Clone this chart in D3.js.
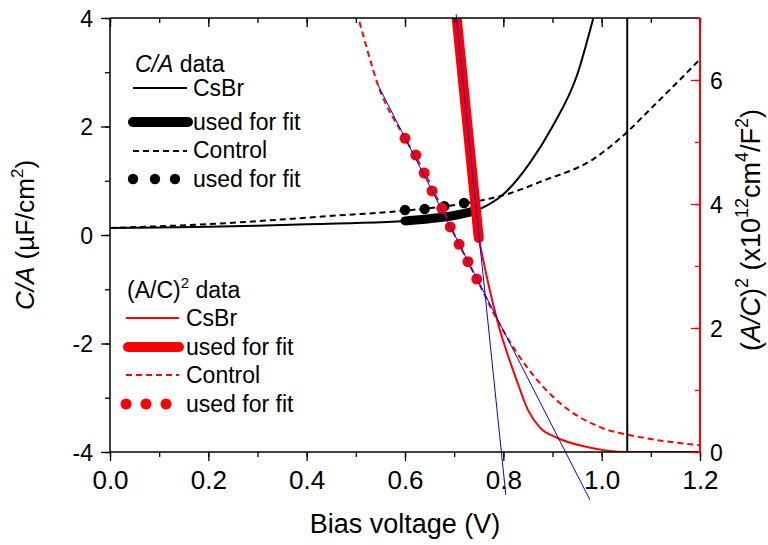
<!DOCTYPE html>
<html><head><meta charset="utf-8">
<script src="https://cdn.jsdelivr.net/npm/d3@7"></script>
<style>body{margin:0;background:#fff}svg{display:block;font-family:"Liberation Sans",Arial,sans-serif}</style>
</head><body><svg id="c" width="768" height="545"></svg>
<script>
// ---- data ----
const xTicks = [0.0, 0.2, 0.4, 0.6, 0.8, 1.0, 1.2];
const yLeftTicks = [-4, -2, 0, 2, 4];
const yRightTicks = [0, 2, 4, 6];
// C/A data (µF/cm²)
const csbrCA = [[0,0.13],[0.1,0.14],[0.2,0.15],[0.3,0.17],[0.4,0.2],[0.5,0.22],[0.6,0.26],[0.65,0.3],[0.7,0.36],[0.75,0.47],[0.8,0.75],[0.854,1.33],[0.9,2.0],[0.95,2.95],[0.983,4.0],[1.0,4.6],[1.04,6.5]];
const csbrJump = [[1.052,20],[1.052,-20]];
const csbrCAFit = [[0.6,0.26],[0.65,0.3],[0.7,0.36],[0.74,0.44]];
const controlCA = [[0,0.13],[0.2,0.2],[0.447,0.35],[0.6,0.45],[0.72,0.58],[0.814,0.77],[0.875,0.98],[0.983,1.4],[1.052,1.9],[1.1,2.33],[1.15,2.78],[1.2,3.24]];
const controlCAFit = [[0.6,0.46],[0.64,0.48],[0.68,0.53],[0.72,0.59]];
// (A/C)² data (x10¹² cm⁴/F²)
const csbrAC = [[0.69,8.2],[0.704,7.0],[0.75,3.45],[0.752,3.37],[0.789,2.08],[0.827,1.16],[0.85,0.68],[0.875,0.39],[0.909,0.23],[0.97,0.08],[1.05,0.0],[1.2,0.0]];
const csbrACFit = [[0.69,8.2],[0.75,3.45]];
const controlAC = [[0.49,7.4],[0.505,7.0],[0.545,5.92],[0.6,5.06],[0.64,4.5],[0.675,3.93],[0.71,3.35],[0.746,2.79],[0.793,2.05],[0.848,1.37],[0.915,0.79],[0.997,0.4],[1.078,0.24],[1.2,0.11]];
const controlACFit = [[0.6,5.06],[0.622,4.79],[0.639,4.5],[0.655,4.21],[0.675,3.93],[0.692,3.63],[0.71,3.35],[0.728,3.07],[0.746,2.79]];
const fitLine1 = [[0.704,7.06],[0.805,-0.69]];
const fitLine2 = [[0.545,5.92],[0.976,-0.77]];

// ---- layout ----
const L=110,R=700,T=18,B=452;
const svg=d3.select("#c");
const x=d3.scaleLinear().domain([0,1.2]).range([L,R]);
const yL=d3.scaleLinear().domain([-4,4]).range([B,T]);
const yR=d3.scaleLinear().domain([0,7]).range([B,T]);

svg.append("defs").append("clipPath").attr("id","clip").append("rect")
  .attr("x",L).attr("y",T).attr("width",R-L).attr("height",B-T);

const lineL=d3.line().x(d=>x(d[0])).y(d=>yL(d[1]));
const lineR=d3.line().x(d=>x(d[0])).y(d=>yR(d[1]));
const curveL=d3.line().x(d=>x(d[0])).y(d=>yL(d[1])).curve(d3.curveMonotoneX);
const curveR=d3.line().x(d=>x(d[0])).y(d=>yR(d[1])).curve(d3.curveMonotoneX);
const g=svg.append("g").attr("clip-path","url(#clip)");

// C/A curves
g.append("path").attr("d",curveL(controlCA)).attr("fill","none").attr("stroke","#000").attr("stroke-width",2).attr("stroke-dasharray","6,4");
g.append("path").attr("d",curveL(csbrCA)).attr("fill","none").attr("stroke","#000").attr("stroke-width",2);
g.append("path").attr("d",lineL(csbrJump)).attr("fill","none").attr("stroke","#000").attr("stroke-width",2);
g.selectAll(".bd").data(controlCAFit).enter().append("circle").attr("cx",d=>x(d[0])).attr("cy",d=>yL(d[1])).attr("r",5.2).attr("fill","#000");
g.append("path").attr("d",curveL(csbrCAFit)).attr("fill","none").attr("stroke","#000").attr("stroke-width",9).attr("stroke-linecap","round");

// (A/C)² curves
g.append("path").attr("d",curveR(controlAC)).attr("fill","none").attr("stroke","#ff0000").attr("stroke-width",2).attr("stroke-dasharray","6,4");
g.append("path").attr("d",curveR(csbrAC)).attr("fill","none").attr("stroke","#ff0000").attr("stroke-width",2);
g.append("path").attr("d",lineR(csbrACFit)).attr("fill","none").attr("stroke","#ff0000").attr("stroke-width",10).attr("stroke-linecap","round");
g.selectAll(".rd").data(controlACFit).enter().append("circle").attr("cx",d=>x(d[0])).attr("cy",d=>yR(d[1])).attr("r",5.5).attr("fill","#ff0000");

// fit lines (extend beyond frame)
svg.append("path").attr("d",lineR(fitLine1)).attr("fill","none").attr("stroke","#0000ff").attr("stroke-width",1);
svg.append("path").attr("d",lineR(fitLine2)).attr("fill","none").attr("stroke","#0000ff").attr("stroke-width",1);

// ---- axes ----
const minor=d3.range(0,13).map(i=>i/10);
// bottom: minor ticks via d3 axis, major ticks + labels via d3 axis
const axBm=svg.append("g").attr("transform",`translate(0,${B})`).call(d3.axisBottom(x).tickValues(minor).tickSize(5).tickSizeOuter(0).tickFormat(""));
axBm.select(".domain").remove();
axBm.selectAll("line").attr("stroke","#000").attr("stroke-width",1.3);
const axB=svg.append("g").attr("transform",`translate(0,${B})`).call(d3.axisBottom(x).tickValues(xTicks).tickSize(9).tickSizeOuter(0).tickPadding(8).tickFormat(d3.format(".1f")));
axB.select(".domain").attr("stroke","#000").attr("stroke-width",1.5).attr("d",`M${L},0H${R}`);
axB.selectAll("line").attr("stroke","#000").attr("stroke-width",1.3);
axB.selectAll("text").attr("font-size",26).attr("font-family","'Liberation Sans',Arial,sans-serif").attr("fill","#000").attr("dy",0).attr("y",37);
// top
const axTm=svg.append("g").attr("transform",`translate(0,${T})`).call(d3.axisBottom(x).tickValues(minor).tickSize(5).tickSizeOuter(0).tickFormat(""));
axTm.select(".domain").remove();
axTm.selectAll("line").attr("stroke","#000").attr("stroke-width",1.3);
const axT=svg.append("g").attr("transform",`translate(0,${T})`).call(d3.axisBottom(x).tickValues(xTicks).tickSize(9).tickSizeOuter(0).tickFormat(""));
axT.select(".domain").attr("stroke","#000").attr("stroke-width",1.5).attr("d",`M${L},0H${R}`);
axT.selectAll("line").attr("stroke","#000").attr("stroke-width",1.3);
// left
const leftMinor=d3.range(-4,4.01,1);
const axLm=svg.append("g").attr("transform",`translate(${L},0)`).call(d3.axisLeft(yL).tickValues(leftMinor).tickSize(5).tickSizeOuter(0).tickFormat(""));
axLm.select(".domain").remove();
axLm.selectAll("line").attr("stroke","#000").attr("stroke-width",1.3);
const axLft=svg.append("g").attr("transform",`translate(${L},0)`).call(d3.axisLeft(yL).tickValues(yLeftTicks).tickSize(9).tickSizeOuter(0).tickPadding(8).tickFormat(d3.format("d")));
axLft.select(".domain").attr("stroke","#000").attr("stroke-width",1.5).attr("d",`M0,${T}V${B}`);
axLft.selectAll("line").attr("stroke","#000").attr("stroke-width",1.3);
axLft.selectAll("text").attr("font-size",23).attr("font-family","'Liberation Sans',Arial,sans-serif").attr("fill","#000").attr("dy","0.36em").text(d=>d<0?"-"+Math.abs(d):d);
// right
const rightMinor=d3.range(0,7.01,1);
const axRm=svg.append("g").attr("transform",`translate(${R},0)`).call(d3.axisLeft(yR).tickValues(rightMinor).tickSize(5).tickSizeOuter(0).tickFormat(""));
axRm.select(".domain").remove();
axRm.selectAll("line").attr("stroke","#ff0000").attr("stroke-width",1.3);
const axRt=svg.append("g").attr("transform",`translate(${R},0)`).call(d3.axisLeft(yR).tickValues(yRightTicks).tickSize(9).tickSizeOuter(0).tickFormat(d3.format("d")));
axRt.select(".domain").attr("stroke","#ff0000").attr("stroke-width",2).attr("d",`M0,${T}V${B}`);
axRt.selectAll("line").attr("stroke","#ff0000").attr("stroke-width",1.3);
axRt.selectAll("text").attr("font-size",23).attr("font-family","'Liberation Sans',Arial,sans-serif").attr("fill","#000").attr("text-anchor","start").attr("x",10).attr("dy","0.36em");

// titles
svg.append("text").attr("x",405).attr("y",533).attr("text-anchor","middle").attr("font-size",27).text("Bias voltage (V)");
const tl=svg.append("text").attr("transform","translate(34,235) rotate(-90)").attr("text-anchor","middle").attr("font-size",26);
tl.append("tspan").attr("font-style","italic").text("C/A");
tl.append("tspan").text(" (\u00B5F/cm");
tl.append("tspan").attr("font-size",17).attr("dy",-11).text("2");
tl.append("tspan").attr("dy",11).text(")");
const tr=svg.append("text").attr("transform","translate(760,230) rotate(-90)").attr("text-anchor","middle").attr("font-size",27);
tr.append("tspan").text("(");
tr.append("tspan").attr("font-style","italic").text("A/C");
tr.append("tspan").text(")");
tr.append("tspan").attr("font-size",18).attr("dy",-12).text("2");
tr.append("tspan").attr("dy",12).text(" (x10");
tr.append("tspan").attr("font-size",18).attr("dy",-12).text("12");
tr.append("tspan").attr("dy",12).text("cm");
tr.append("tspan").attr("font-size",18).attr("dy",-12).text("4");
tr.append("tspan").attr("dy",12).text("/F");
tr.append("tspan").attr("font-size",18).attr("dy",-12).text("2");
tr.append("tspan").attr("dy",12).text(")");

// ---- legends ----
const fs=23;
const l1=svg.append("g");
const h1=l1.append("text").attr("x",135).attr("y",72).attr("font-size",fs);
h1.append("tspan").attr("font-style","italic").text("C/A");h1.append("tspan").text(" data");
const rows1=[{y:96,t:"CsBr"},{y:130,t:"used for fit"},{y:158,t:"Control"},{y:187,t:"used for fit"}];
l1.append("line").attr("x1",133).attr("x2",187).attr("y1",88).attr("y2",88).attr("stroke","#000").attr("stroke-width",2);
l1.append("line").attr("x1",133).attr("x2",188).attr("y1",122).attr("y2",122).attr("stroke","#000").attr("stroke-width",10).attr("stroke-linecap","round");
l1.append("line").attr("x1",133).attr("x2",187).attr("y1",151).attr("y2",151).attr("stroke","#000").attr("stroke-width",2).attr("stroke-dasharray","6,4");
[133,155,175].forEach(cx=>l1.append("circle").attr("cx",cx).attr("cy",179).attr("r",5.2).attr("fill","#000"));
l1.selectAll(".t").data(rows1).enter().append("text").attr("x",193).attr("y",d=>d.y).attr("font-size",fs).text(d=>d.t);

const l2=svg.append("g");
const h2=l2.append("text").attr("x",127).attr("y",298).attr("font-size",fs);
h2.append("tspan").text("(A/C)");h2.append("tspan").attr("font-size",15).attr("dy",-10).text("2");h2.append("tspan").attr("dy",10).text(" data");
const rows2=[{y:326,t:"CsBr"},{y:355,t:"used for fit"},{y:383,t:"Control"},{y:412,t:"used for fit"}];
l2.append("line").attr("x1",126).attr("x2",179).attr("y1",318).attr("y2",318).attr("stroke","#ff0000").attr("stroke-width",2);
l2.append("line").attr("x1",128).attr("x2",179).attr("y1",347).attr("y2",347).attr("stroke","#ff0000").attr("stroke-width",10).attr("stroke-linecap","round");
l2.append("line").attr("x1",126).attr("x2",179).attr("y1",375).attr("y2",375).attr("stroke","#ff0000").attr("stroke-width",2).attr("stroke-dasharray","6,4");
[126,146,166].forEach(cx=>l2.append("circle").attr("cx",cx).attr("cy",404).attr("r",5.5).attr("fill","#ff0000"));
l2.selectAll(".t").data(rows2).enter().append("text").attr("x",186).attr("y",d=>d.y).attr("font-size",fs).text(d=>d.t);
</script></body></html>
